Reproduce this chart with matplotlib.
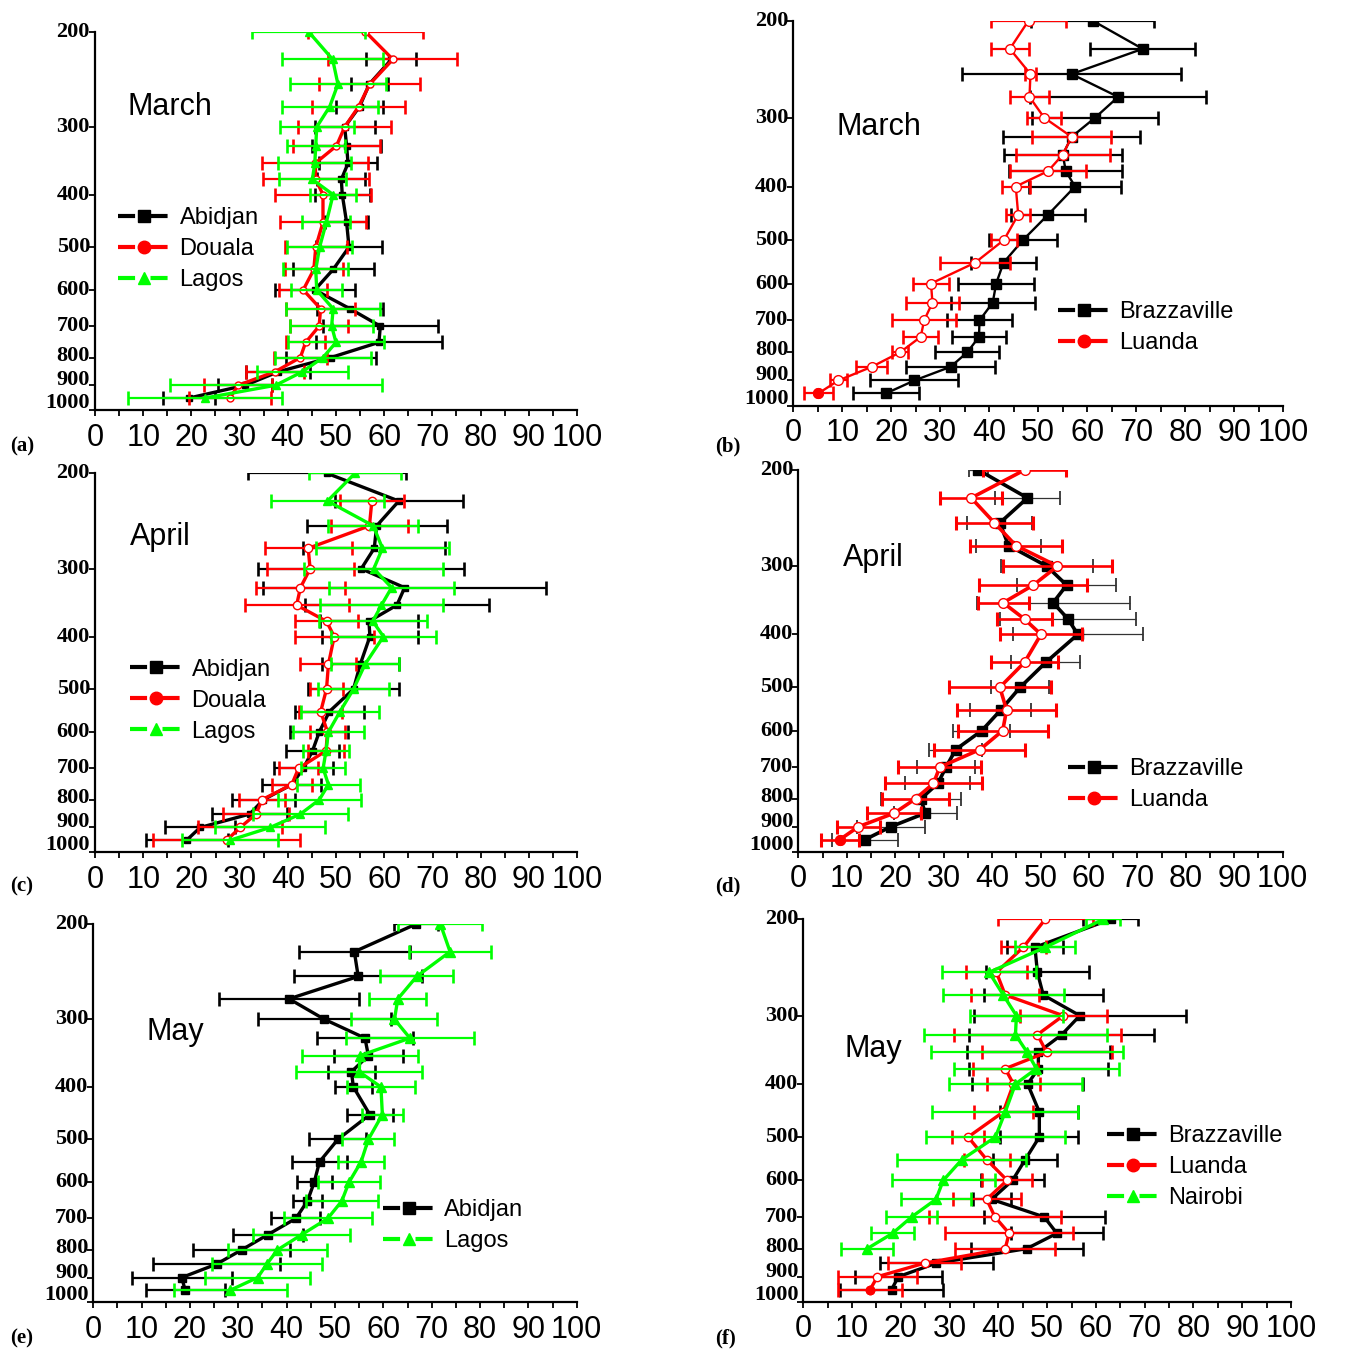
import numpy as np
import matplotlib
matplotlib.use("Agg")
import matplotlib.pyplot as plt
import matplotlib.transforms as mtransforms
from matplotlib.lines import Line2D
from matplotlib.ticker import FixedLocator, MultipleLocator, NullLocator, NullFormatter

nan = np.nan

LEVELS = [200, 225, 250, 275, 300, 325, 350, 375, 400, 450, 500, 550, 600, 650, 700, 750, 800, 850, 900, 950]
YTICKS = [200, 300, 400, 500, 600, 700, 800, 900, 1000]
XTICKS = [0, 10, 20, 30, 40, 50, 60, 70, 80, 90, 100]

# (a) March - West Africa
A_ABJ = [nan, 61.5, 56.9, 54.9, 51.8, 52.2, 52.5, 51.1, 51.3, 52.2, 52.7, 49.4, 45.6, 52.9, 59.2, 58.9, 48.9, 38.0, 31.2, 19.6]
A_ABJ_ERR = [nan, 5.2, 3.8, 4.8, 6.2, 7.1, 6.0, 5.0, 5.7, 4.4, 6.8, 8.4, 8.3, 6.8, 12.0, 13.0, 9.3, 6.6, 5.6, 5.4]
A_DOU = [56.1, 61.8, 57.0, 54.7, 51.8, 50.1, 45.7, 45.8, 47.3, 47.3, 45.8, 45.4, 43.2, 46.8, 46.5, 43.7, 42.6, 37.3, 29.7, 28.0]
A_DOU_ERR = [12.0, 13.4, 10.5, 9.6, 9.7, 9.0, 11.0, 11.0, 10.0, 9.0, 6.4, 6.0, 5.0, 7.2, 6.0, 4.0, 5.5, 6.0, 7.1, 8.5]
A_LAG = [44.3, 49.3, 50.4, 48.7, 46.0, 45.8, 45.6, 45.1, 49.4, 48.0, 46.6, 45.8, 46.0, 49.4, 49.1, 50.0, 47.3, 43.0, 37.5, 22.9]
A_LAG_ERR = [11.7, 10.5, 10.0, 10.0, 7.7, 6.0, 7.6, 7.0, 4.8, 5.0, 6.7, 6.7, 5.3, 9.8, 8.6, 10.0, 10.0, 9.4, 22.0, 16.0]

# (b) March - Central Africa
B_BRA = [61.1, 71.3, 56.8, 66.3, 61.6, 56.8, 55.0, 55.6, 57.5, 52.0, 46.9, 42.9, 41.4, 40.7, 38.0, 37.9, 35.5, 32.1, 24.7, 18.9]
B_BRA_ERR = [12.5, 10.7, 22.4, 18.0, 12.9, 14.0, 12.0, 11.5, 9.3, 7.5, 7.0, 6.7, 7.8, 8.6, 6.7, 5.5, 6.5, 9.0, 9.0, 6.7]
B_LUA = [48.0, 44.2, 48.4, 48.2, 51.2, 56.8, 55.0, 52.0, 45.4, 45.9, 43.0, 37.1, 28.1, 28.4, 26.7, 26.0, 21.8, 16.0, 9.2, 5.1]
B_LUA_ERR = [7.7, 3.8, 1.2, 4.0, 3.5, 8.0, 9.6, 7.7, 2.9, 2.5, 2.7, 7.2, 3.7, 5.4, 6.5, 3.6, 1.6, 3.2, 1.8, 3.0]

# (c) April - West Africa
C_ABJ = [48.1, 63.0, 58.4, 57.9, 55.2, 64.2, 62.6, 56.8, 57.0, 55.0, 53.6, 48.6, 46.5, 45.1, 43.2, 40.8, 34.9, 32.1, 21.8, 19.0]
C_ABJ_ERR = [16.4, 13.2, 14.5, 14.7, 21.3, 29.3, 19.1, 10.2, 10.0, 8.0, 9.5, 7.1, 6.0, 5.4, 6.1, 6.1, 6.5, 7.8, 7.3, 8.5]
C_DOU = [nan, 57.4, 56.9, 44.2, 44.6, 42.6, 41.8, 48.0, 49.6, 48.4, 48.0, 46.8, 48.2, 47.9, 42.2, 40.8, 34.6, 33.4, 30.1, 27.3]
C_DOU_ERR = [nan, 6.6, 8.0, 9.0, 9.0, 9.2, 10.8, 6.5, 8.2, 5.8, 3.5, 4.5, 3.7, 3.8, 4.0, 4.2, 4.7, 6.9, 8.7, 15.2]
C_LAG = [53.9, 48.2, 57.7, 59.6, 57.8, 61.5, 59.4, 57.6, 59.8, 56.0, 53.6, 50.8, 48.4, 47.9, 47.3, 48.4, 46.5, 42.6, 36.3, 28.0]
C_LAG_ERR = [9.5, 11.7, 9.3, 13.7, 14.4, 12.9, 12.7, 11.2, 10.8, 7.1, 7.3, 8.0, 7.3, 4.7, 4.6, 6.6, 8.6, 9.9, 11.4, 9.9]

# (d) April - Central Africa
D_BRA = [37.2, 47.3, 41.6, 43.4, 51.3, 55.4, 52.6, 55.7, 57.7, 51.1, 45.8, 41.8, 37.9, 32.5, 30.5, 28.8, 25.3, 26.2, 19.1, 13.8]
D_BRA_ERR = [2.0, 6.7, 6.7, 6.7, 9.5, 10.2, 15.8, 14.1, 13.4, 7.1, 6.0, 6.3, 5.9, 5.5, 6.0, 6.7, 8.3, 6.5, 7.0, 6.8]
D_LUA = [46.7, 35.7, 40.5, 44.9, 53.5, 48.5, 42.3, 46.7, 50.1, 46.7, 41.6, 43.0, 42.2, 37.5, 29.2, 27.9, 24.2, 19.8, 12.4, 8.6]
D_LUA_ERR = [8.5, 6.4, 7.9, 9.5, 11.2, 11.2, 5.3, 5.7, 8.4, 6.9, 10.5, 10.3, 9.3, 9.4, 8.6, 10.0, 7.0, 5.6, 4.5, 3.9]

# (e) May - West Africa
E_ABJ = [66.8, 54.0, 54.8, 40.5, 47.8, 56.2, 56.9, 53.4, 53.8, 57.2, 50.6, 46.8, 45.7, 44.3, 41.9, 36.1, 30.7, 25.5, 18.3, 19.0]
E_ABJ_ERR = [4.6, 11.5, 13.2, 14.4, 13.7, 10.0, 7.1, 4.9, 3.8, 4.7, 5.9, 5.6, 3.6, 3.0, 5.1, 7.3, 10.0, 13.2, 10.3, 8.2]
E_LAG = [71.8, 73.8, 66.9, 63.0, 62.3, 65.5, 55.2, 55.0, 59.5, 59.8, 56.9, 55.4, 52.9, 51.4, 48.5, 43.1, 38.1, 35.9, 34.0, 28.3]
E_LAG_ERR = [8.7, 8.4, 7.6, 5.9, 8.9, 13.3, 12.0, 13.1, 7.1, 4.2, 5.4, 4.8, 6.4, 7.4, 9.1, 10.0, 10.2, 11.4, 10.8, 11.7]

# (f) May - Central / East Africa
F_BRA = [63.0, 47.5, 48.0, 49.2, 56.7, 53.0, 48.2, 48.2, 46.0, 48.4, 48.4, 45.5, 42.9, 38.6, 49.4, 52.0, 45.8, 27.3, 19.5, 18.1]
F_BRA_ERR = [5.7, 5.8, 10.6, 12.2, 21.7, 19.0, 14.7, 14.3, 11.4, 8.0, 8.0, 6.6, 6.4, 3.9, 12.4, 9.4, 11.5, 11.5, 9.0, 10.5]
F_LUA = [49.6, 45.1, 39.6, 41.4, 53.3, 48.0, 49.9, 41.4, 43.1, 41.0, 33.8, 37.6, 41.8, 37.6, 39.3, 42.2, 41.4, 24.9, 15.2, 13.7]
F_LUA_ERR = [9.7, 4.6, 6.2, 7.0, 8.9, 17.1, 13.3, 6.7, 5.4, 6.0, 3.3, 4.7, 5.1, 7.0, 13.5, 13.2, 10.2, 7.5, 8.1, 6.5]
F_NAI = [61.5, 49.6, 38.1, 41.0, 43.7, 43.5, 45.9, 47.8, 43.5, 41.4, 39.4, 32.5, 28.7, 27.2, 22.2, 18.3, 13.1, nan, nan, nan]
F_NAI_ERR = [3.5, 6.2, 9.6, 12.4, 9.6, 18.8, 19.7, 16.9, 13.7, 15.0, 14.3, 13.2, 10.6, 7.1, 5.3, 4.4, 5.3, nan, nan, nan]

BLACK = "#000000"
RED = "#ff0000"
GREEN = "#00ff00"

SANS = "Liberation Sans"
SERIF = "Liberation Serif"

W, H = 1354, 1350
fig = plt.figure(figsize=(W / 100, H / 100), dpi=100)


def add_axes(left, right, top, bottom):
    return fig.add_axes([left / W, 1 - bottom / H, (right - left) / W, (bottom - top) / H])


STYLE = {
    "sq": dict(color=BLACK, marker="s", mfc=BLACK, mec=BLACK),
    "ci": dict(color=RED, marker="o", mfc="white", mec=RED),
    "tr": dict(color=GREEN, marker="^", mfc=GREEN, mec=GREEN),
}

# vertical nudge (pixels, upward) of the y tick labels, as in the original figure
YLAB_SHIFT = {800: 2, 900: 5, 1000: 7}


def draw_series(ax, vals, errs, kind, lw, elw, ecolor=None, ms=6, z=2, fill_last=False):
    st = STYLE[kind]
    ax.errorbar(vals, LEVELS, xerr=errs, fmt="none", ecolor=ecolor or st["color"],
                elinewidth=elw, capsize=5, capthick=max(elw, 1.0) + 0.3, zorder=z)
    ax.plot(vals, LEVELS, color=st["color"], lw=lw, marker=st["marker"], ms=ms,
            mfc=st["mfc"], mec=st["mec"], mew=1.0, zorder=z + 0.5)
    if fill_last:
        ax.plot([vals[-1]], [LEVELS[-1]], marker=st["marker"], ms=ms, color=st["color"],
                mfc=st["color"], mec=st["color"], lw=0, zorder=z + 0.6)


def style_axes(ax):
    ax.set_yscale("log")
    ax.set_ylim(1000, 200)
    ax.set_xlim(0, 100)
    ax.yaxis.set_major_locator(FixedLocator(YTICKS))
    ax.yaxis.set_major_formatter(NullFormatter())
    ax.yaxis.set_minor_locator(NullLocator())
    ax.yaxis.set_minor_formatter(NullFormatter())
    ax.xaxis.set_major_locator(FixedLocator(XTICKS))
    ax.xaxis.set_minor_locator(MultipleLocator(5))
    for s in ("top", "right"):
        ax.spines[s].set_visible(False)
    for s in ("left", "bottom"):
        ax.spines[s].set_linewidth(1.6)
    ax.tick_params(axis="x", which="both", direction="out", length=4, width=1.3, labelsize=22, pad=5)
    ax.tick_params(axis="y", which="major", direction="out", length=4, width=1.3)
    for lab in ax.get_xticklabels():
        lab.set_fontfamily(SANS)
    trans = mtransforms.blended_transform_factory(ax.transAxes, ax.transData)
    for v in YTICKS:
        off = mtransforms.ScaledTranslation(-5 / 100, YLAB_SHIFT.get(v, 0) / 100, fig.dpi_scale_trans)
        ax.text(0, v, str(v), transform=trans + off, ha="right", va="center",
                family=SERIF, weight="bold", fontsize=16, clip_on=False)
    ax.patch.set_alpha(0)


def legend(ax, kinds, labels, x, y):
    handles = []
    for k in kinds:
        st = STYLE[k]
        handles.append(Line2D([0], [0], color=st["color"], lw=3, marker=st["marker"], ms=9,
                              mfc=st["color"], mec=st["color"], dashes=(4.1, 3.7)))
    ax.legend(handles, labels, loc="upper left", bbox_to_anchor=(x, y), frameon=False,
              borderaxespad=0, borderpad=0, handlelength=2.2, handletextpad=0.4,
              labelspacing=0.38, prop={"family": SANS, "size": 17})


def month(ax, text, x, y):
    ax.text(x, y, text, transform=ax.transAxes, fontsize=22, family=SANS, ha="left", va="center")


# (a)
ax = add_axes(95, 577, 31.7, 410)
style_axes(ax)
draw_series(ax, A_ABJ, A_ABJ_ERR, "sq", 2.4, 1.6, ms=5, z=2)
draw_series(ax, A_DOU, A_DOU_ERR, "ci", 2.4, 1.6, ms=5, z=3)
draw_series(ax, A_LAG, A_LAG_ERR, "tr", 2.4, 1.6, ms=6, z=4)
month(ax, "March", 0.068, 0.80)
legend(ax, ["sq", "ci", "tr"], ["Abidjan", "Douala", "Lagos"], 0.048, 0.537)

# (b)
ax = add_axes(793.3, 1283.3, 20.7, 405.7)
style_axes(ax)
draw_series(ax, B_BRA, B_BRA_ERR, "sq", 1.7, 1.6, ms=7, z=2)
draw_series(ax, B_LUA, B_LUA_ERR, "ci", 1.7, 1.6, ms=7, z=3, fill_last=True)
month(ax, "March", 0.089, 0.725)
legend(ax, ["sq", "ci"], ["Brazzaville", "Luanda"], 0.54, 0.272)

# (c)
ax = add_axes(95, 577.3, 473.3, 852.3)
style_axes(ax)
draw_series(ax, C_ABJ, C_ABJ_ERR, "sq", 2.4, 1.6, ms=5, z=2)
draw_series(ax, C_DOU, C_DOU_ERR, "ci", 2.4, 1.6, ms=6, z=3)
draw_series(ax, C_LAG, C_LAG_ERR, "tr", 2.4, 1.6, ms=6, z=4)
month(ax, "April", 0.073, 0.833)
legend(ax, ["sq", "ci", "tr"], ["Abidjan", "Douala", "Lagos"], 0.073, 0.511)

# (d)
ax = add_axes(798.3, 1282.7, 470, 851.7)
style_axes(ax)
draw_series(ax, D_BRA, D_BRA_ERR, "sq", 2.6, 0.9, ecolor="#333333", ms=7, z=2)
draw_series(ax, D_LUA, D_LUA_ERR, "ci", 2.6, 1.9, ms=7, z=3, fill_last=True)
month(ax, "April", 0.093, 0.769)
legend(ax, ["sq", "ci"], ["Brazzaville", "Luanda"], 0.557, 0.245)

# (e)
ax = add_axes(93.3, 576.7, 924, 1302.3)
style_axes(ax)
draw_series(ax, E_ABJ, E_ABJ_ERR, "sq", 2.4, 1.6, ms=6, z=2)
draw_series(ax, E_LAG, E_LAG_ERR, "tr", 2.4, 1.6, ms=7, z=3)
month(ax, "May", 0.110, 0.715)
legend(ax, ["sq", "tr"], ["Abidjan", "Lagos"], 0.599, 0.272)

# (f)
ax = add_axes(803.3, 1291, 919.3, 1301.7)
style_axes(ax)
draw_series(ax, F_BRA, F_BRA_ERR, "sq", 2.4, 1.6, ms=6, z=2)
draw_series(ax, F_LUA, F_LUA_ERR, "ci", 2.4, 1.6, ms=6, z=3, fill_last=True)
draw_series(ax, F_NAI, F_NAI_ERR, "tr", 2.4, 1.6, ms=7, z=4)
month(ax, "May", 0.0855, 0.66)
legend(ax, ["sq", "ci", "tr"], ["Brazzaville", "Luanda", "Nairobi"], 0.622, 0.462)

# panel letters
for lab, x, y in [("(a)", 10, 446), ("(b)", 715, 446), ("(c)", 10, 886),
                  ("(d)", 715, 886), ("(e)", 10, 1338), ("(f)", 715, 1338)]:
    fig.text(x / W, 1 - y / H, lab, family=SERIF, weight="bold", fontsize=15, ha="left", va="center")

fig.savefig("out.png", dpi=100, facecolor="white")
